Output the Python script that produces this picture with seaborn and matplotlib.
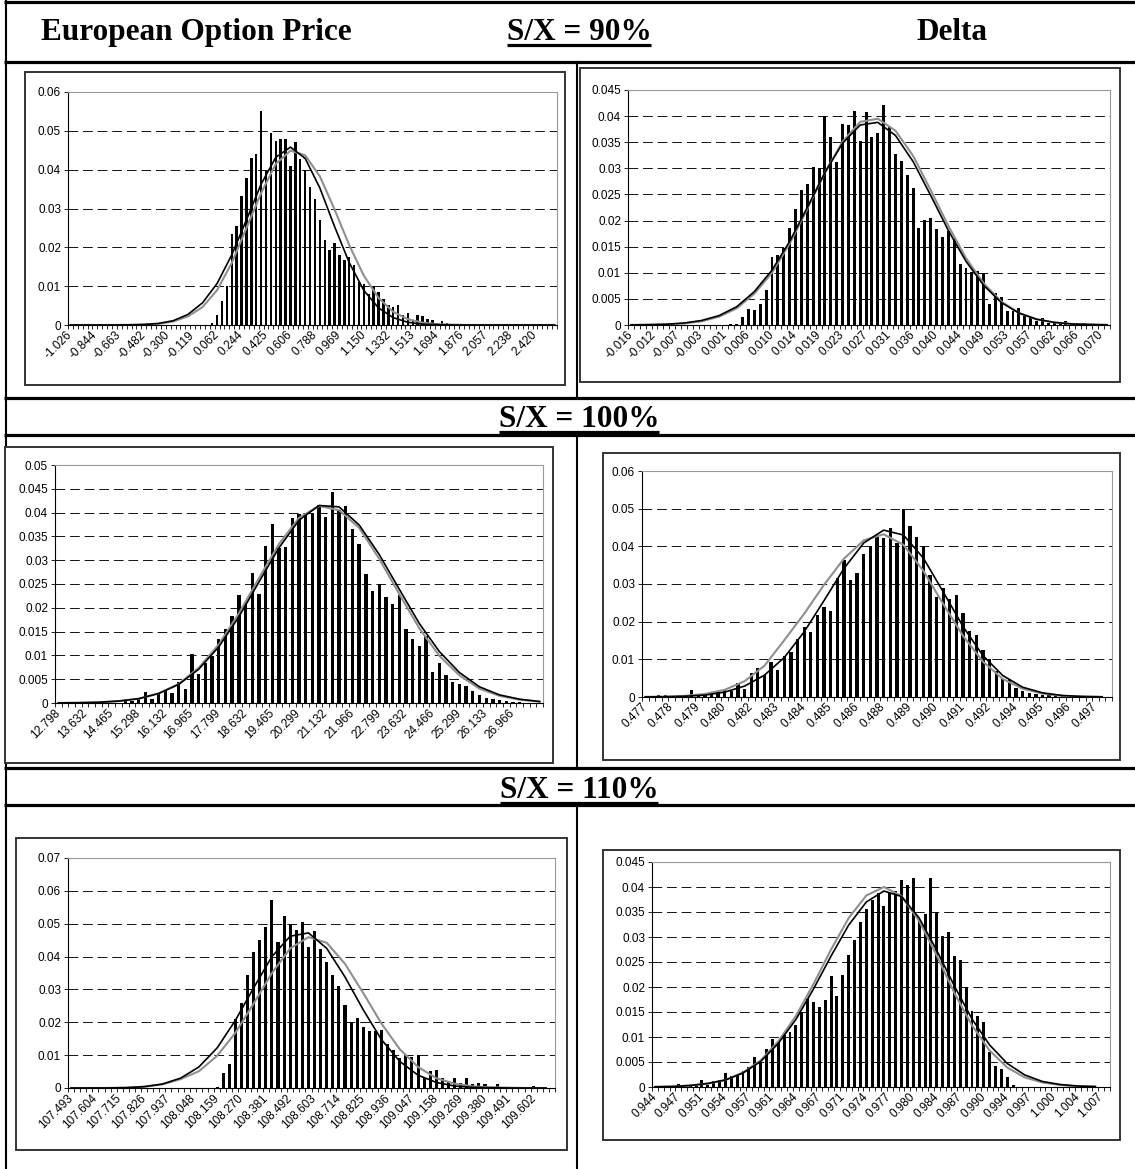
import numpy as np
import pandas as pd
import matplotlib
matplotlib.use('Agg')
import matplotlib.pyplot as plt
from matplotlib.patches import Rectangle
import seaborn as sns

plt.rcParams['font.family'] = ['Liberation Sans', 'DejaVu Sans']

W, H = 1135, 1169

# ---------------- data ----------------
# S/X = 90%, option price
P1_BARS = [0] * 29 + [
    0.0005, 0.0025, 0.0063, 0.0100, 0.0235, 0.0255, 0.0333, 0.0378, 0.0430, 0.0440, 0.0550,
    0.0400, 0.0495, 0.0475, 0.0478, 0.0478, 0.0410, 0.0470, 0.0428, 0.0400, 0.0355,
    0.0325, 0.0270, 0.0220, 0.0193, 0.0210, 0.0180, 0.0168, 0.0175, 0.0155, 0.0110,
    0.0105, 0.0080, 0.0100, 0.0085, 0.0068, 0.0052, 0.0047, 0.0052, 0.0025, 0.0030,
    0.0012, 0.0027, 0.0022, 0.0015, 0.0012, 0.0005, 0.0010, 0.0005, 0, 0.0003,
    0, 0, 0.0003, 0, 0, 0.0003, 0, 0, 0, 0,
    0, 0, 0, 0, 0, 0, 0, 0, 0, 0]
P1_LABELS = ['-1.026', '-0.844', '-0.663', '-0.482', '-0.300', '-0.119', '0.062', '0.244',
             '0.425', '0.606', '0.788', '0.969', '1.150', '1.332', '1.513', '1.694', '1.876',
             '2.057', '2.238', '2.420']
P1_BLACK = [0, 0, 0, 0, 0.00004, 0.00014, 0.0004, 0.0011, 0.0027, 0.0057, 0.0107, 0.0181,
            0.0271, 0.0363, 0.0432, 0.0458, 0.0429, 0.0353, 0.0254, 0.0161, 0.0089, 0.0044,
            0.0019, 0.0007, 0.0002, 0.0001, 0, 0, 0, 0, 0, 0, 0, 0]
P1_GRAY = [0, 0, 0, 0, 0.00003, 0.0001, 0.0003, 0.0009, 0.0022, 0.0046, 0.0090, 0.0160,
           0.0250, 0.0340, 0.0415, 0.0449, 0.0437, 0.0383, 0.0298, 0.0206, 0.0127, 0.0070,
           0.0034, 0.0015, 0.0006, 0.0002, 0.0001, 0, 0, 0, 0, 0, 0, 0]

# S/X = 90%, delta
P2_BARS = [0] * 17 + [
    0.0002, 0.0002, 0.0015,
    0.0030, 0.0028, 0.0041, 0.0067, 0.0130, 0.0135, 0.0147, 0.0185, 0.0223, 0.0258,
    0.0270, 0.0303, 0.0300, 0.0401, 0.0360, 0.0312, 0.0385, 0.0383, 0.0410, 0.0352,
    0.0407, 0.0360, 0.0368, 0.0421, 0.0380, 0.0328, 0.0314, 0.0287, 0.0263, 0.0185,
    0.0202, 0.0205, 0.0184, 0.0168, 0.0180, 0.0165, 0.0117, 0.0110, 0.0102, 0.0104,
    0.0097, 0.0041, 0.0062, 0.0053, 0.0027, 0.0027, 0.0033, 0.0017, 0.0015, 0.0007,
    0.0013, 0.0003, 0.0003, 0.0002, 0.0008, 0.0004, 0.0001, 0.0004, 0.0001, 0,
    0, 0]
P2_LABELS = ['-0.016', '-0.012', '-0.007', '-0.003', '0.001', '0.006', '0.010', '0.014',
             '0.019', '0.023', '0.027', '0.031', '0.036', '0.040', '0.044', '0.049', '0.053',
             '0.057', '0.062', '0.066', '0.070']
P2_BLACK = [0.00002, 0.00006, 0.00015, 0.00037, 0.00086, 0.0018, 0.0035, 0.0064, 0.0105,
            0.0160, 0.0225, 0.0292, 0.0348, 0.0383, 0.0388, 0.0363, 0.0313, 0.0248, 0.0181,
            0.0122, 0.0076, 0.0043, 0.0023, 0.0011, 0.0005, 0.0002, 0.0001, 0.00003]
P2_GRAY = [0.00002, 0.00005, 0.00012, 0.0003, 0.0007, 0.0016, 0.0032, 0.0060, 0.0100,
           0.0156, 0.0222, 0.0292, 0.0351, 0.0389, 0.0395, 0.0372, 0.0324, 0.0258, 0.0190,
           0.0128, 0.0080, 0.0045, 0.0023, 0.0011, 0.0005, 0.0002, 0.0001, 0.00003]

# S/X = 100%, option price
P3_BARS = [0] * 10 + [
    0.0007, 0.0005, 0.0008, 0.0023, 0.0008, 0.0018, 0.0025, 0.0020, 0.0045, 0.0030,
    0.0102, 0.0060, 0.0083, 0.0098, 0.0135, 0.0155, 0.0183, 0.0227, 0.0211, 0.0273,
    0.0228, 0.0330, 0.0377, 0.0325, 0.0327, 0.0388, 0.0398, 0.0400, 0.0400, 0.0415,
    0.0391, 0.0443, 0.0405, 0.0413, 0.0365, 0.0333, 0.0272, 0.0236, 0.0250, 0.0222,
    0.0207, 0.0227, 0.0155, 0.0135, 0.0120, 0.0140, 0.0065, 0.0085, 0.0058, 0.0045,
    0.0040, 0.0035, 0.0025, 0.0017, 0.0011, 0.0009, 0.0006, 0.0004, 0.0003, 0.0002,
    0.0001, 0, 0]
P3_LABELS = ['12.798', '13.632', '14.465', '15.298', '16.132', '16.965', '17.799', '18.632',
             '19.465', '20.299', '21.132', '21.966', '22.799', '23.632', '24.466', '25.299',
             '26.133', '26.966']
P3_BLACK = [0.00002, 0.00005, 0.00015, 0.0004, 0.0009, 0.0020, 0.0039, 0.0071, 0.0118,
            0.0181, 0.0254, 0.0326, 0.0384, 0.0415, 0.0412, 0.0374, 0.0312, 0.0239, 0.0167,
            0.0108, 0.0064, 0.0034, 0.0017, 0.0008, 0.0003]
P3_GRAY = [0.00002, 0.00006, 0.00015, 0.0004, 0.0009, 0.0020, 0.0040, 0.0074, 0.0123,
           0.0188, 0.0262, 0.0334, 0.0389, 0.0414, 0.0405, 0.0368, 0.0303, 0.0229, 0.0157,
           0.0099, 0.0058, 0.0030, 0.0015, 0.0007, 0.0003]

# S/X = 100%, delta
P4_BARS = [
    0, 0.0002, 0.0004, 0.0004, 0.0002, 0.0006, 0.0003, 0.0018, 0.0005, 0.0008,
    0.0010, 0.0012, 0.0018, 0.0015, 0.0038, 0.0022, 0.0063, 0.0077, 0.0058, 0.0093,
    0.0072, 0.0110, 0.0120, 0.0155, 0.0185, 0.0172, 0.0218, 0.0240, 0.0228, 0.0315,
    0.0365, 0.0310, 0.0330, 0.0380, 0.0402, 0.0425, 0.0422, 0.0450, 0.0410, 0.0500,
    0.0455, 0.0425, 0.0400, 0.0325, 0.0265, 0.0290, 0.0260, 0.0270, 0.0222, 0.0175,
    0.0165, 0.0125, 0.0100, 0.0070, 0.0047, 0.0048, 0.0025, 0.0015, 0.0010, 0.0008,
    0.0005, 0.0005, 0.0003, 0.0002, 0, 0, 0, 0, 0, 0,
    0]
P4_LABELS = ['0.477', '0.478', '0.479', '0.480', '0.482', '0.483', '0.484', '0.485', '0.486',
             '0.488', '0.489', '0.490', '0.491', '0.492', '0.494', '0.495', '0.496', '0.497']
P4_BLACK = [0.00002, 0.00006, 0.0002, 0.0005, 0.0013, 0.0029, 0.0058, 0.0105, 0.0173,
            0.0256, 0.0341, 0.0409, 0.0443, 0.0430, 0.0369, 0.0279, 0.0187, 0.0110, 0.0057,
            0.0026, 0.0011, 0.0004, 0.00015, 0.00005]
P4_GRAY = [0.00005, 0.00012, 0.0003, 0.0008, 0.0019, 0.0042, 0.0083, 0.0151, 0.0221,
           0.0298, 0.0367, 0.0416, 0.0432, 0.0404, 0.0335, 0.0247, 0.0162, 0.0094, 0.0048,
           0.0022, 0.0009, 0.0003, 0.0001, 0.00003]

# S/X = 110%, option price
P5_BARS = [0] * 24 + [
    0.0004, 0.0045, 0.0073, 0.0210, 0.0260, 0.0343,
    0.0415, 0.0450, 0.0490, 0.0573, 0.0445, 0.0522, 0.0500, 0.0482, 0.0505, 0.0430,
    0.0477, 0.0423, 0.0383, 0.0343, 0.0310, 0.0252, 0.0200, 0.0212, 0.0185, 0.0172,
    0.0172, 0.0177, 0.0135, 0.0115, 0.0090, 0.0097, 0.0095, 0.0100, 0.0030, 0.0053,
    0.0055, 0.0030, 0.0022, 0.0030, 0.0015, 0.0030, 0.0012, 0.0015, 0.0012, 0.0003,
    0.0012, 0.0002, 0.0002, 0.0002, 0.0002, 0.0002, 0.0005, 0.0002, 0.0002, 0]
P5_LABELS = ['107.493', '107.604', '107.715', '107.826', '107.937', '108.048', '108.159',
             '108.270', '108.381', '108.492', '108.603', '108.714', '108.825', '108.936',
             '109.047', '109.158', '109.269', '109.380', '109.491', '109.602']
P5_BLACK = [0, 0, 0.00002, 0.0001, 0.0004, 0.0012, 0.0030, 0.0064, 0.0122, 0.0206, 0.0305,
            0.0400, 0.0462, 0.0472, 0.0425, 0.0338, 0.0238, 0.0147, 0.0081, 0.0039, 0.0017,
            0.0006, 0.0002, 0.0001, 0, 0, 0]
P5_GRAY = [0, 0, 0.00002, 0.0001, 0.0004, 0.0011, 0.0027, 0.0051, 0.0098, 0.0168, 0.0257,
           0.0350, 0.0425, 0.0459, 0.0442, 0.0378, 0.0289, 0.0196, 0.0118, 0.0064, 0.0030,
           0.0013, 0.0005, 0.0002, 0.0001, 0, 0]

# S/X = 110%, delta
P6_BARS = [
    0, 0.0003, 0, 0.0002, 0.0007, 0.0003, 0.0005, 0.0003, 0.0015, 0.0005,
    0.0012, 0.0015, 0.0029, 0.0023, 0.0024, 0.0032, 0.0041, 0.0061, 0.0050, 0.0076,
    0.0097, 0.0093, 0.0105, 0.0110, 0.0125, 0.0150, 0.0177, 0.0170, 0.0160, 0.0175,
    0.0222, 0.0182, 0.0224, 0.0265, 0.0295, 0.0330, 0.0357, 0.0375, 0.0388, 0.0362,
    0.0388, 0.0392, 0.0415, 0.0405, 0.0418, 0.0335, 0.0347, 0.0418, 0.0350, 0.0303,
    0.0310, 0.0263, 0.0255, 0.0200, 0.0153, 0.0143, 0.0130, 0.0071, 0.0043, 0.0036,
    0.0020, 0.0005, 0, 0, 0, 0, 0, 0, 0, 0,
    0, 0, 0, 0, 0, 0, 0, 0]
P6_LABELS = ['0.944', '0.947', '0.951', '0.954', '0.957', '0.961', '0.964', '0.967', '0.971',
             '0.974', '0.977', '0.980', '0.984', '0.987', '0.990', '0.994', '0.997', '1.000',
             '1.004', '1.007']
P6_BLACK = [0.00004, 0.0001, 0.0003, 0.0007, 0.0014, 0.0028, 0.0051, 0.0087, 0.0135, 0.0196,
            0.0262, 0.0324, 0.0370, 0.0392, 0.0381, 0.0338, 0.0273, 0.0202, 0.0136, 0.0084,
            0.0047, 0.0024, 0.0011, 0.0005, 0.0002, 0.0001]
P6_GRAY = [0.00004, 0.0001, 0.0003, 0.0007, 0.0014, 0.0029, 0.0053, 0.0091, 0.0142, 0.0206,
           0.0275, 0.0338, 0.0383, 0.0400, 0.0382, 0.0332, 0.0263, 0.0188, 0.0123, 0.0073,
           0.0039, 0.0019, 0.0009, 0.0004, 0.0001, 0.00005]


def px_rect(x0, y0, x1, y1):
    return [x0 / W, 1 - y1 / H, (x1 - x0) / W, (y1 - y0) / H]


fig = plt.figure(figsize=(W / 100, H / 100), dpi=100)
bg = fig.add_axes([0, 0, 1, 1])
bg.set_xlim(0, W)
bg.set_ylim(H, 0)
bg.axis('off')

# table grid
for y in [2, 62, 398, 435, 768, 805]:
    bg.plot([4, W], [y, y], color='black', lw=2.3, solid_capstyle='butt')
bg.plot([6, 6], [1, H], color='black', lw=1.5)
for y0, y1 in [(62, 398), (435, 768), (805, H)]:
    bg.plot([577, 577], [y0, y1], color='black', lw=1.5)


def header(x, y, s, underline=False):
    t = bg.text(x, y, s, ha='center', va='baseline', fontsize=22.5, fontweight='bold',
                family='Liberation Serif')
    return (t, y) if underline else None


heads = [header(196, 40, 'European Option Price'),
         header(579, 40, 'S/X = 90%', True),
         header(952, 40, 'Delta'),
         header(579, 427, 'S/X = 100%', True),
         header(579, 798, 'S/X = 110%', True)]


def fmt(v):
    return f'{round(v, 4):g}'


def draw_panel(box, area, bars, labels, every, ymax, ystep, black, gray):
    bg.add_patch(Rectangle((box[0], box[1]), box[2] - box[0], box[3] - box[1],
                           facecolor='white', edgecolor='#333333', lw=1.4, zorder=3))
    ax = fig.add_axes(px_rect(*area))
    ax.set_zorder(5)
    n = len(bars)
    df = pd.DataFrame({'bin': np.arange(n), 'freq': bars})
    sns.barplot(data=df, x='bin', y='freq', color='black', width=0.5, saturation=1,
                errorbar=None, linewidth=0, native_scale=True, ax=ax)
    cx = np.arange(0, n, 3)
    sns.lineplot(x=cx, y=gray, color='#8f8f8f', lw=1.5, ax=ax)
    sns.lineplot(x=cx, y=black, color='black', lw=1.2, ax=ax)
    ax.set_xlim(-0.5, n - 0.5)
    ax.set_ylim(0, ymax)
    ax.set_xlabel('')
    ax.set_ylabel('')
    ax.set_xticks(np.arange(0, n, every)[:len(labels)])
    ax.set_xticklabels(labels, rotation=45, ha='right', va='center', rotation_mode='anchor',
                       fontsize=8.5)
    ax.set_xticks(np.arange(-0.5, n, 1), minor=True)
    ax.tick_params(axis='x', which='major', length=0, pad=6)
    ax.tick_params(axis='x', which='minor', length=3, width=0.6, direction='out')
    yt = np.arange(0, ymax + 1e-9, ystep)
    ax.set_yticks(yt)
    ax.set_yticklabels([fmt(v) for v in yt], fontsize=8.5)
    ax.tick_params(axis='y', length=3, width=0.6, pad=2)
    ax.set_axisbelow(True)
    ax.yaxis.grid(True, color='#111111', linestyle=(0, (10, 5)), lw=0.7)
    ax.xaxis.grid(False)
    for s in ['left', 'bottom']:
        ax.spines[s].set_color('black')
        ax.spines[s].set_linewidth(0.8)
    for s in ['top', 'right']:
        ax.spines[s].set_color('#9a9a9a')
        ax.spines[s].set_linewidth(0.8)
    ax.set_facecolor('white')
    return ax


draw_panel((25, 72, 565, 385), (68, 92, 557, 325), P1_BARS, P1_LABELS, 5, 0.06, 0.01,
           P1_BLACK, P1_GRAY)
draw_panel((580, 68, 1120, 382), (628, 90, 1110, 325), P2_BARS, P2_LABELS, 4, 0.045, 0.005,
           P2_BLACK, P2_GRAY)
draw_panel((5, 447, 553, 763), (55, 465, 543, 703), P3_BARS, P3_LABELS, 4, 0.05, 0.005,
           P3_BLACK, P3_GRAY)
draw_panel((603, 453, 1120, 760), (642, 471, 1112, 697), P4_BARS, P4_LABELS, 4, 0.06, 0.01,
           P4_BLACK, P4_GRAY)
draw_panel((16, 838, 567, 1150), (68, 858, 555, 1088), P5_BARS, P5_LABELS, 4, 0.07, 0.01,
           P5_BLACK, P5_GRAY)
draw_panel((603, 850, 1120, 1140), (652, 862, 1110, 1087), P6_BARS, P6_LABELS, 4, 0.045,
           0.005, P6_BLACK, P6_GRAY)

# underline the S/X headings
fig.canvas.draw()
for h in heads:
    if h is None:
        continue
    t, y = h
    bb = t.get_window_extent()
    bg.plot([bb.x0, bb.x1], [y + 5, y + 5], color='black', lw=2.3, solid_capstyle='butt')

fig.savefig('out.png', dpi=100)
